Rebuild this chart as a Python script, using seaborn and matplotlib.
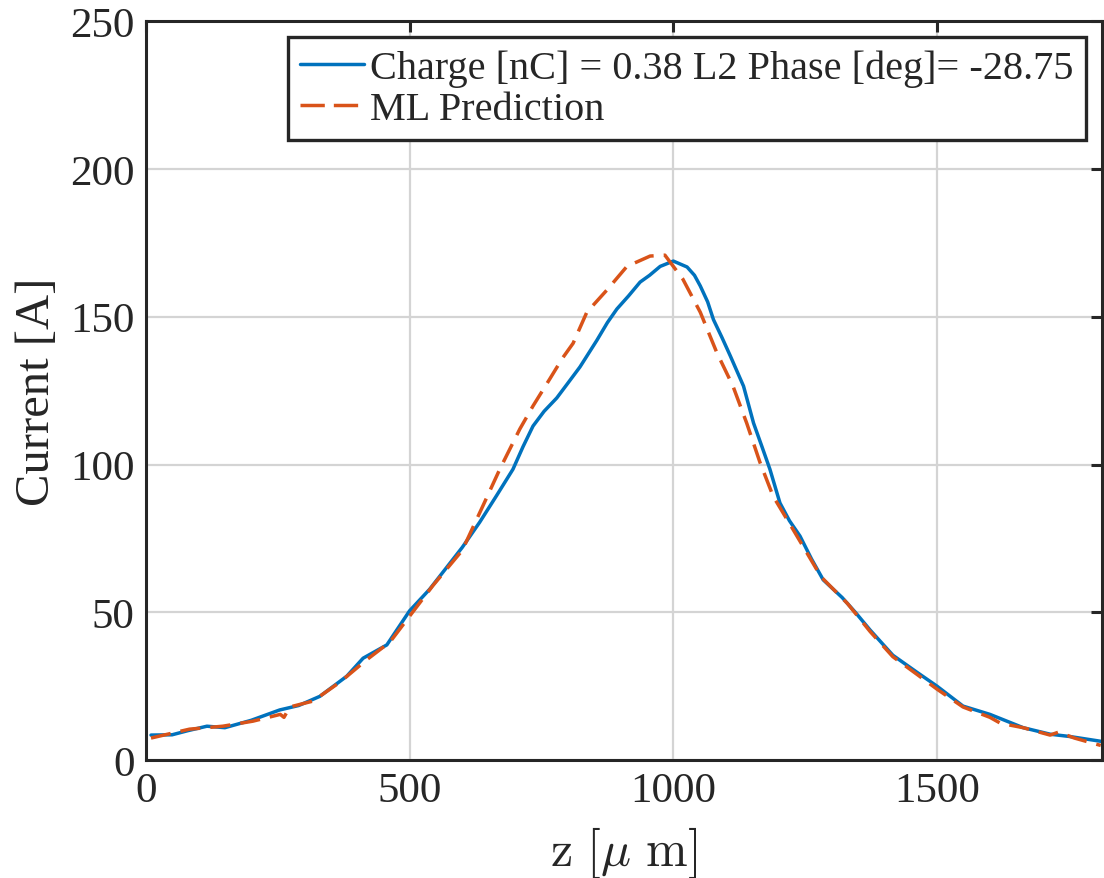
import numpy as np
import pandas as pd
import matplotlib
matplotlib.use("Agg")
import matplotlib.pyplot as plt
import seaborn as sns

# measured beam current profile
z_meas = [10, 50, 80, 116, 150, 200, 254, 290, 330, 381, 412, 457, 500, 538, 576,
          600, 633, 665, 696, 715, 734, 755, 779, 800, 823, 855, 875, 893, 915,
          937, 955, 975, 1000, 1026, 1040, 1051, 1065, 1076, 1092, 1108, 1133,
          1152, 1168, 1183, 1202, 1220, 1240, 1262, 1284, 1320, 1345, 1373, 1416,
          1462, 1500, 1549, 1600, 1663, 1714, 1752, 1810]
i_meas = [8.5, 8.6, 10.0, 11.5, 11.0, 13.5, 17.0, 18.5, 21.6, 28.4, 34.5, 39.0,
          50.5, 57.8, 66.5, 72, 80.5, 89.5, 98.4, 106, 113, 118, 122.5, 127.5,
          133, 142, 148, 152.6, 157, 161.7, 164, 167, 168.8, 166.8, 164, 160.4,
          155, 149, 143, 136.7, 126.5, 114, 106, 98.4, 87, 81, 75.8, 68, 61,
          55, 50, 44, 35.5, 29.7, 25, 18.3, 15.5, 11, 8.8, 8.0, 6.4]

# ML prediction
z_pred = [10, 83, 146, 203, 255, 262, 273, 317, 368, 419, 463, 500, 544, 600, 639,
          671, 709, 734, 766, 790, 810, 836, 874, 912, 956, 984, 1018, 1051, 1082,
          1113, 1139, 1164, 1189, 1227, 1280, 1330, 1373, 1416, 1462, 1500, 1549,
          1600, 1620, 1663, 1714, 1730, 1760, 1810]
i_pred = [7.5, 10.5, 11.5, 13.2, 15.5, 14.5, 18, 20, 26.4, 34, 40, 48.7, 59, 71,
          86, 98.4, 112, 119.8, 129, 136, 141, 151.5, 159, 167, 170.5, 170.8,
          162.7, 151.5, 138, 126.5, 114, 100.8, 89.3, 78, 62, 53, 43.5, 35, 29,
          24, 18, 14.5, 12.5, 11, 8.5, 9.5, 7.5, 5]

label_meas = "Charge [nC] = 0.38 L2 Phase [deg]= -28.75"
label_pred = "ML Prediction"
x_ticks = [0, 500, 1000, 1500]
y_ticks = [0, 50, 100, 150, 200, 250]

sns.set_theme(style="white")
plt.rcParams["font.family"] = ["Liberation Serif", "DejaVu Serif"]
plt.rcParams["mathtext.fontset"] = "cm"

fig = plt.figure(figsize=(11.04, 8.79), dpi=100)
ax = fig.add_axes([0.132, 0.134, 0.866, 0.841])

df_m = pd.DataFrame({"z": z_meas, "I": i_meas})
df_p = pd.DataFrame({"z": z_pred, "I": i_pred})

sns.lineplot(data=df_m, x="z", y="I", ax=ax, color="#0072BD", linewidth=2.5,
             label=label_meas)
sns.lineplot(data=df_p, x="z", y="I", ax=ax, color="#D95319", linewidth=2.5,
             label=label_pred)
ax.lines[1].set_dashes([5.8, 2.9])

ax.set_xlim(0, 1812)
ax.set_ylim(0, 250)
ax.set_xticks(x_ticks)
ax.set_yticks(y_ticks)
ax.grid(True, color="#d4d4d4", linewidth=1.6)
ax.set_axisbelow(True)
for s in ax.spines.values():
    s.set_visible(True)
    s.set_color("#262626")
    s.set_linewidth(2.2)
ax.tick_params(direction="in", length=8, width=2.2, top=True, right=True,
               labelsize=31, colors="#262626", pad=8)
for lab in ax.get_xticklabels() + ax.get_yticklabels():
    lab.set_color("#262626")

ax.set_xlabel(r"$\mathrm{z}\ [\mu\ \mathrm{m}]$", fontsize=36, color="#262626",
              labelpad=10)
ax.set_ylabel("Current [A]", fontsize=35, color="#262626", labelpad=8)

leg = ax.legend(loc="upper right", fontsize=29, frameon=True, fancybox=False,
                framealpha=1, borderaxespad=0.4, handlelength=1.6,
                handletextpad=0.15, labelspacing=0.1, borderpad=0.3)
leg.get_frame().set_edgecolor("#262626")
leg.get_frame().set_linewidth(2.4)
for h in leg.get_lines():
    h.set_linewidth(2.5)
leg.get_lines()[1].set_dashes([7, 2.6])

fig.savefig("out.png", dpi=100)
